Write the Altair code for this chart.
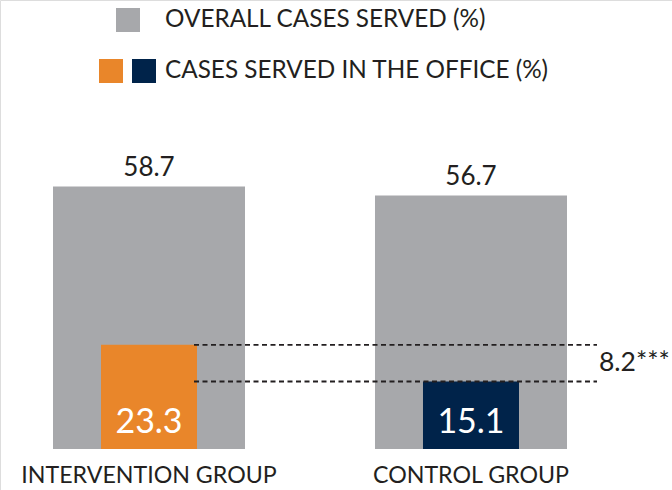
import altair as alt
import pandas as pd

# ---- data ----
groups = ["INTERVENTION GROUP", "CONTROL GROUP"]
overall = [58.7, 56.7]
office = [23.3, 15.1]
diff_label = "8.2***"
legend_labels = ["OVERALL CASES SERVED (%)", "CASES SERVED IN THE OFFICE (%)"]

GRAY = "#a7a8ab"
ORANGE = "#e9862a"
NAVY = "#00234a"
TEXT = "#231f20"
FONT = "Lato"

df = pd.DataFrame({"group": groups, "overall": overall, "office": office})
df["overall_lbl"] = [f"{v:.1f}" for v in overall]
df["office_lbl"] = [f"{v:.1f}" for v in office]

diff_df = pd.DataFrame({"y": [sum(office) / len(office)], "label": [diff_label]})

xscale = alt.Scale(domain=groups, range=[0, 620], paddingInner=0.4037, paddingOuter=0.1646)
yscale = alt.Scale(domain=[0, 100], range=[449, 2], nice=False, zero=True)
X = alt.X("group:N", scale=xscale, axis=None, sort=groups)

base = alt.Chart(df)

gray_bars = base.mark_bar(color=GRAY).encode(
    x=X, y=alt.Y("overall:Q", scale=yscale, axis=None)
)
inner_bars = base.mark_bar(width=alt.RelativeBandSize(0.5)).encode(
    x=X,
    y=alt.Y("office:Q", scale=yscale, axis=None),
    color=alt.Color("group:N", scale=alt.Scale(domain=groups, range=[ORANGE, NAVY]), legend=None),
)
rules = base.mark_rule(color=TEXT, strokeWidth=1.8, strokeDash=[5, 3.5]).encode(
    y=alt.Y("office:Q", scale=yscale, axis=None),
    x=alt.value(194),
    x2=alt.value(597),
)
top_labels = base.mark_text(font=FONT, fontSize=26, color=TEXT, baseline="alphabetic", dy=-11).encode(
    x=X, y=alt.Y("overall:Q", scale=yscale, axis=None), text="overall_lbl:N"
)
inner_labels = base.mark_text(font=FONT, fontSize=34, color="white", baseline="alphabetic").encode(
    x=X, y=alt.value(433), text="office_lbl:N"
)
cat_labels = base.mark_text(font=FONT, fontSize=23.2, color=TEXT, baseline="alphabetic").encode(
    x=X, y=alt.value(483), text="group:N"
)
diff_text = alt.Chart(diff_df).mark_text(font=FONT, fontSize=26.5, color=TEXT, align="left", baseline="middle").encode(
    x=alt.value(599), y=alt.Y("y:Q", scale=yscale, axis=None), text="label:N"
)

one = pd.DataFrame({"k": [0]})
sw_gray = alt.Chart(one).mark_rect(color=GRAY).encode(
    x=alt.value(116), x2=alt.value(140), y=alt.value(8), y2=alt.value(32))
sw_orange = alt.Chart(one).mark_rect(color=ORANGE).encode(
    x=alt.value(99), x2=alt.value(123), y=alt.value(59), y2=alt.value(83))
sw_navy = alt.Chart(one).mark_rect(color=NAVY).encode(
    x=alt.value(132), x2=alt.value(156), y=alt.value(59), y2=alt.value(83))
leg1 = alt.Chart(pd.DataFrame({"label": [legend_labels[0]]})).mark_text(
    font=FONT, fontSize=24.3, color=TEXT, align="left", baseline="middle").encode(
    x=alt.value(165), y=alt.value(20), text="label:N")
leg2 = alt.Chart(pd.DataFrame({"label": [legend_labels[1]]})).mark_text(
    font=FONT, fontSize=24.3, color=TEXT, align="left", baseline="middle").encode(
    x=alt.value(165), y=alt.value(71), text="label:N")

chart = alt.layer(
    gray_bars, inner_bars, rules, top_labels, inner_labels, cat_labels, diff_text,
    sw_gray, sw_orange, sw_navy, leg1, leg2,
).properties(
    width=672, height=490, padding=0,
    autosize=alt.AutoSizeParams(type="none"),
).configure_view(stroke=None).configure(background="white")

chart.save("out.html", embed_options={"renderer": "svg", "actions": False})
